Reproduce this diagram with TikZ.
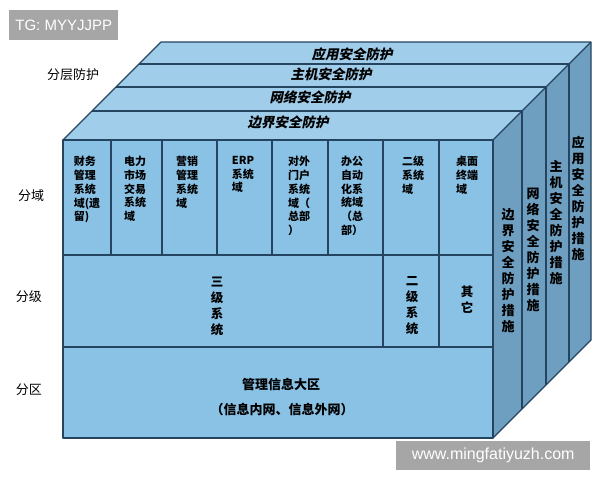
\documentclass[tikz,border=0pt]{standalone}
\usepackage{fontspec}
\setmainfont{Liberation Sans}
\newfontfamily\cjk{Noto Sans CJK SC}
\newfontfamily\cjksl[FakeSlant=0.2]{Noto Sans CJK SC}
\definecolor{topc}{HTML}{A0CDEA}
\definecolor{frontc}{HTML}{8AC2E6}
\definecolor{sidec}{HTML}{6E9FC0}
\definecolor{edgec}{HTML}{24445F}
\definecolor{wmgray}{HTML}{A6A6A6}
\begin{document}
\begin{tikzpicture}[x=1pt,y=-1pt,line join=round,
  edge/.style={draw=edgec,line width=1.2pt},
  dom/.style={font=\cjk\bfseries\fontsize{11}{13.8}\selectfont,align=left,anchor=north,inner sep=0pt},
  band/.style={font=\cjksl\bfseries\fontsize{13.5}{16}\selectfont,inner sep=0pt},
  side/.style={font=\cjk\bfseries\fontsize{13}{16}\selectfont,align=center,inner sep=0pt},
  vert/.style={font=\cjk\bfseries\fontsize{12.5}{16}\selectfont,align=center,inner sep=0pt},
  zone/.style={font=\cjk\bfseries\fontsize{13}{16}\selectfont,inner sep=0pt},
  lab/.style={font=\cjk\fontsize{13}{16}\selectfont,inner sep=0pt},
  wmbox/.style={fill=wmgray,text=white,inner sep=0pt,font=\fontsize{15}{18}\selectfont}]
\useasboundingbox (0,0) rectangle (600,480);
% faces
\fill[frontc] (63,140) rectangle (493,438);
\fill[topc] (63,140) -- (493,140) -- (591,42) -- (161,42) -- cycle;
\fill[sidec] (493,140) -- (591,42) -- (591,340) -- (493,438) -- cycle;
% band separators and side panels
\foreach \d in {29,53,76}{
  \draw[edge] (63+\d,140-\d) -- (493+\d,140-\d);
  \draw[edge] (493+\d,140-\d) -- (493+\d,438-\d);
}
% outline
\draw[edge] (63,140) rectangle (493,438);
\draw[edge] (63,140) -- (161,42) -- (591,42) -- (591,340) -- (493,438);
\draw[edge] (493,140) -- (591,42);
% front grid
\draw[edge] (63,255) -- (493,255);
\draw[edge] (63,347) -- (493,347);
\foreach \x in {111,162,217,272,328,383,439}{\draw[edge] (\x,140) -- (\x,255);}
\foreach \x in {383,439}{\draw[edge] (\x,255) -- (\x,347);}
% band labels
\node[band] (b1) at (288,122) {边界安全防护};
\node[band] (b2) at (310,97) {网络安全防护};
\node[band] (b3) at (331,74) {主机安全防护};
\node[band] (b4) at (352,54) {应用安全防护};
% domain labels
\node[dom] (d1) at (87,156) {财务\\管理\\系统\\域(遗\\留)};
\node[dom] (d2) at (135,156) {电力\\市场\\交易\\系统\\域};
\node[dom] (d3) at (187,156) {营销\\管理\\系统\\域};
\node[dom] (d4) at (243,156) {ERP\\系统\\域};
\node[dom] (d5) at (299,156) {对外\\门户\\系统\\域（\\总部\\）};
\node[dom] (d6) at (352,156) {办公\\自动\\化系\\统域\\（总\\部）};
\node[dom] (d7) at (413,156) {二级\\系统\\域};
\node[dom] (d8) at (467,156) {桌面\\终端\\域};
% level labels
\node[vert] (l1) at (217,306) {三\\级\\系\\统};
\node[vert] (l2) at (412,306) {二\\级\\系\\统};
\node[vert] (l3) at (467,300) {其\\它};
% zone labels
\node[zone] (z1) at (281,385) {管理信息大区};
\node[zone] (z2) at (282,410) {（信息内网、信息外网）};
% side labels
\node[side] (s1) at (508,271) {边\\界\\安\\全\\防\\护\\措\\施};
\node[side] (s2) at (533,250) {网\\络\\安\\全\\防\\护\\措\\施};
\node[side] (s3) at (556,223) {主\\机\\安\\全\\防\\护\\措\\施};
\node[side] (s4) at (578,198) {应\\用\\安\\全\\防\\护\\措\\施};
% left labels
\node[lab] (p1) at (73,75) {分层防护};
\node[lab] (p2) at (31,196) {分域};
\node[lab] (p3) at (29,297) {分级};
\node[lab] (p4) at (29,390) {分区};
% watermarks
\node[wmbox,minimum width=109pt,minimum height=30pt,anchor=north west] (tg) at (9,10) {TG: MYYJJPP};
\node[wmbox,minimum width=194pt,minimum height=29pt,anchor=north west,font=\fontsize{16}{18}\selectfont] (wm) at (396,441) {www.mingfatiyuzh.com};
\end{tikzpicture}
\end{document}
